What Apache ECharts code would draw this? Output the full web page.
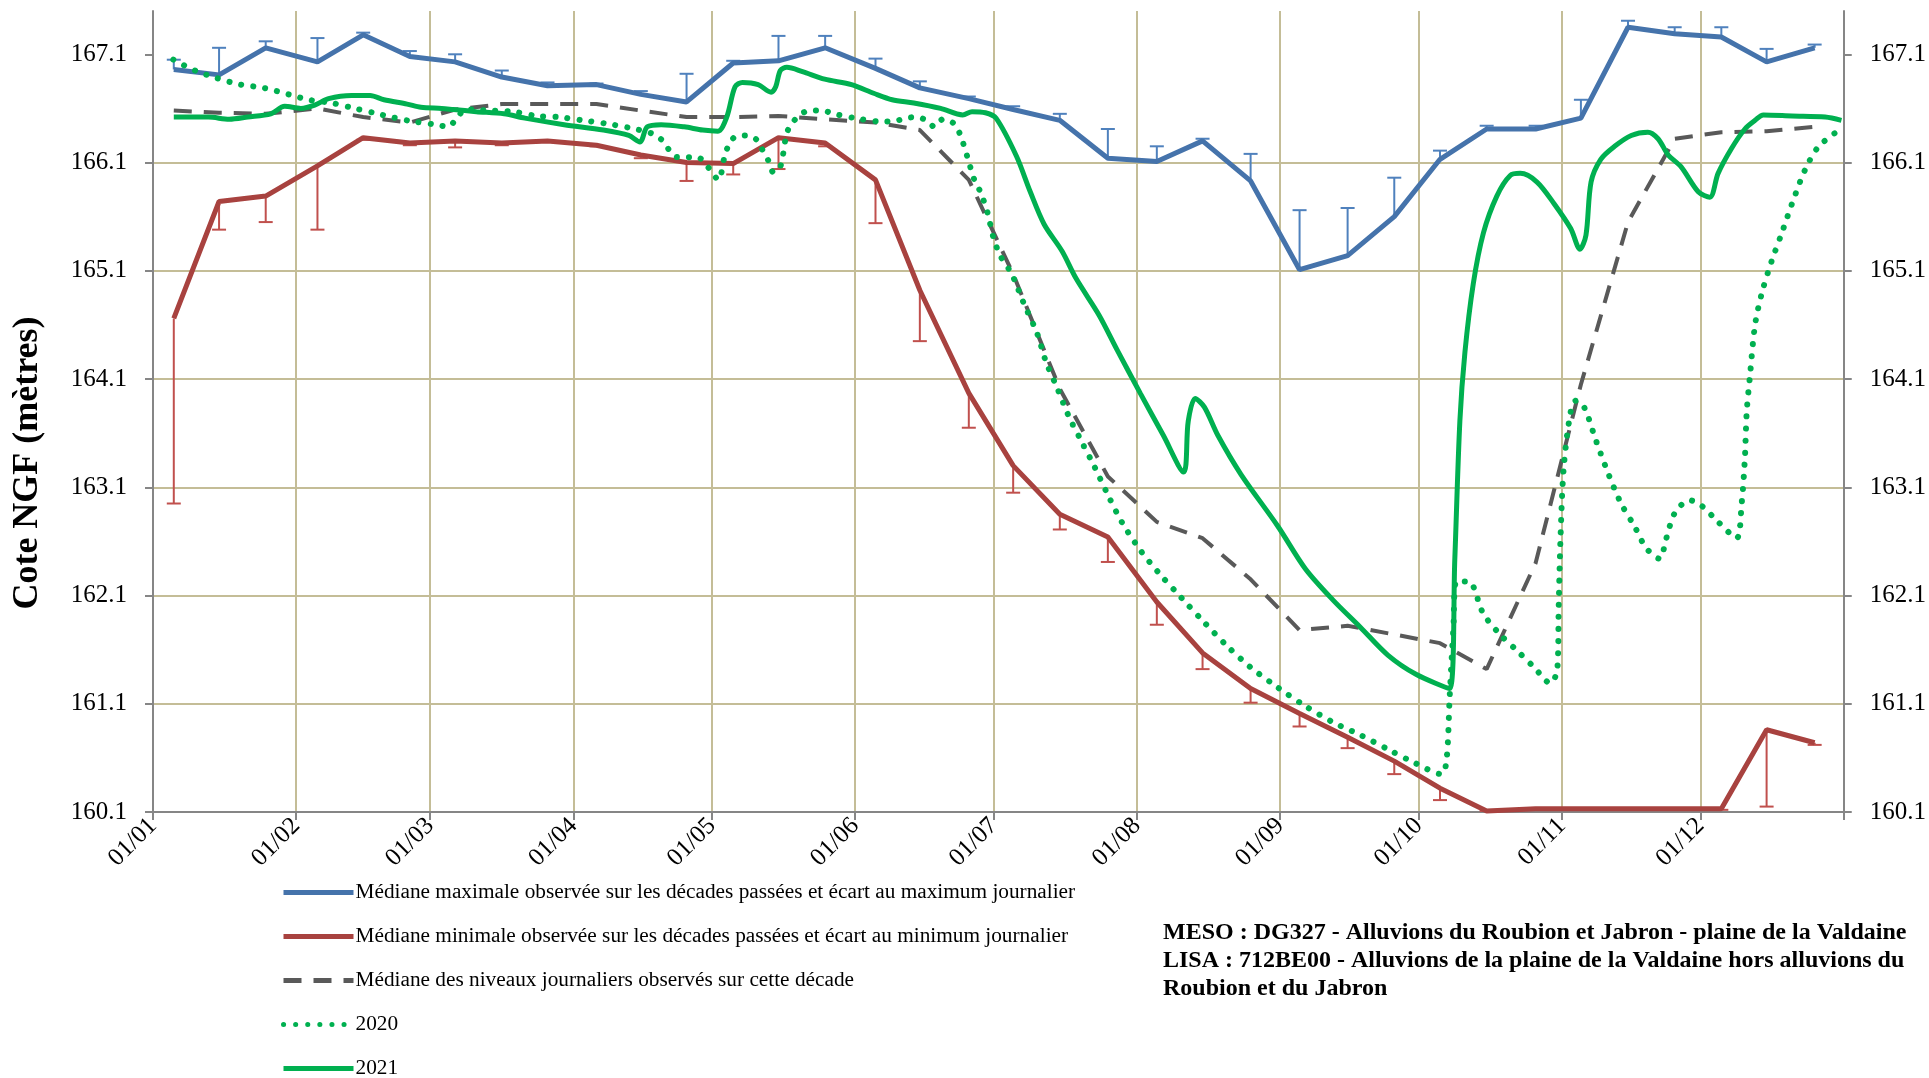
<!DOCTYPE html>
<html>
<head>
    <meta charset="utf-8">
    <title>Cote NGF</title>
    <style>
        html, body { margin: 0; padding: 0; background: #fff; }
        #main { width: 1929px; height: 1078px; }
    </style>
</head>
<body>
    <div id="main"></div>
    <script src="https://cdn.jsdelivr.net/npm/echarts@6/dist/echarts.min.js"></script>
    <script type="text/javascript">

        const FONT = '"Liberation Serif", "Times New Roman", serif';

        // axe des x : jour de l'année (année bissextile)
        const MONTH_STARTS = [0, 31, 60, 91, 121, 152, 182, 213, 244, 274, 305, 335];
        const MONTH_LABELS = ['01/01', '01/02', '01/03', '01/04', '01/05', '01/06',
            '01/07', '01/08', '01/09', '01/10', '01/11', '01/12'];
        const Y_TICKS = [160.1, 161.1, 162.1, 163.1, 164.1, 165.1, 166.1, 167.1];

        // décades
        const DECADE_DAYS = [4.5, 14.3, 24.4, 35.6, 45.5, 55.6, 65.4, 75.5, 85.4, 96, 105.6, 115.5,
            125.6, 135.4, 145.5, 156.4, 166, 176.6, 186.2, 196.3, 206.7, 217.3, 227.2, 237.6,
            248.2, 258.6, 268.7, 278.6, 288.7, 299.3, 309.1, 319.3, 329.4, 339.5, 349.3, 359.7];

        const MAX_MEDIAN = [166.96, 166.91, 167.16, 167.03, 167.28, 167.08, 167.03, 166.89, 166.81, 166.82, 166.73, 166.66,
            167.02, 167.04, 167.16, 166.97, 166.79, 166.69, 166.59, 166.49, 166.14, 166.11, 166.30, 165.93,
            165.11, 165.24, 165.60, 166.13, 166.41, 166.41, 166.51, 167.35, 167.29, 167.26, 167.03, 167.16];
        const MAX_DAILY = [167.05, 167.16, 167.22, 167.25, 167.30, 167.13, 167.10, 166.95, 166.84, 166.83, 166.76, 166.92,
            167.04, 167.27, 167.27, 167.06, 166.85, 166.71, 166.62, 166.55, 166.41, 166.25, 166.32, 166.18,
            165.66, 165.68, 165.96, 166.21, 166.44, 166.44, 166.68, 167.41, 167.35, 167.35, 167.15, 167.19];

        const MIN_MEDIAN = [164.66, 165.74, 165.79, 166.07, 166.33, 166.28, 166.30, 166.28, 166.30, 166.26, 166.17, 166.10,
            166.09, 166.33, 166.28, 165.94, 164.92, 163.97, 163.30, 162.85, 162.64, 162.04, 161.57, 161.24,
            161.01, 160.79, 160.57, 160.32, 160.11, 160.13, 160.13, 160.13, 160.13, 160.13, 160.86, 160.74];
        const MIN_DAILY = [162.95, 165.48, 165.55, 165.48, 166.31, 166.26, 166.24, 166.26, 166.29, 166.25, 166.14, 165.93,
            165.99, 166.04, 166.25, 165.54, 164.45, 163.65, 163.05, 162.71, 162.41, 161.83, 161.42, 161.11,
            160.89, 160.69, 160.45, 160.21, 160.11, 160.13, 160.13, 160.13, 160.13, 160.12, 160.15, 160.72];

        const DECADE_MEDIAN = [166.58, 166.56, 166.55, 166.60, 166.52, 166.47, 166.59, 166.64, 166.64, 166.64, 166.58, 166.52,
            166.52, 166.53, 166.50, 166.47, 166.40, 165.94, 165.07, 164.01, 163.20, 162.78, 162.63, 162.25,
            161.78, 161.82, 161.74, 161.66, 161.42, 162.40, 164.05, 165.55, 166.32, 166.38, 166.39, 166.43];

        // niveaux journaliers (jour, cote)
        const Y2020_DAYS = [4.4, 9.1, 13.8, 18.9, 23.9, 31.1, 33.6, 38.7, 43.7, 48.7, 51.6, 56.2, 61.3, 63.9, 65.6, 67.7,
            73, 78, 83.1, 87.8, 93, 98.1, 103.2, 107.9, 110.1, 113.5, 117.8, 120.3, 122.4, 123.7, 124.6, 126.1,
            128.5, 130.7, 131.9, 133.3, 134.3, 135.8, 137.2, 138.6, 142, 144.9, 147.4, 152.1, 157.5, 160.3,
            162.8, 165.4, 167.8, 169.1, 171, 173.4, 174.8, 176.3, 177.8, 179.2, 180.7, 181.9, 183.4, 185.9,
            188.4, 191.4, 193.3, 195.8, 198.3, 200.8, 203.8, 206.7, 209.7, 213.7, 217.7, 222.6, 227.6, 232.6,
            237.5, 243.5, 249.4, 255.4, 261.4, 267.3, 273.3, 278.9, 280, 280.7, 281.5, 282.2, 284.8, 288,
            291.6, 295.3, 298.9, 302.5, 304, 304.3, 304.7, 305.4, 306.9, 308, 309.8, 312.3, 314.9, 317.8,
            320.7, 323.2, 326.1, 327.6, 329.4, 332.6, 335.2, 338.8, 342.8, 343.9, 344.6, 345, 345.7, 346.8,
            348.3, 350.4, 352.6, 354.8, 357.7, 360.6, 365];
        const Y2020_VALS = [167.05, 166.95, 166.88, 166.82, 166.79, 166.71, 166.68, 166.65, 166.60, 166.55, 166.52, 166.48,
            166.45, 166.43, 166.50, 166.59, 166.58, 166.57, 166.53, 166.52, 166.49, 166.46, 166.42, 166.37,
            166.31, 166.15, 166.15, 166.05, 165.94, 166.15, 166.26, 166.34, 166.35, 166.31, 166.22, 166.11,
            166.01, 166.06, 166.37, 166.48, 166.58, 166.58, 166.55, 166.51, 166.48, 166.48, 166.51, 166.52,
            166.48, 166.43, 166.50, 166.46, 166.35, 166.15, 165.94, 165.82, 165.63, 165.41, 165.24, 165.07,
            164.81, 164.52, 164.26, 164.01, 163.75, 163.54, 163.29, 163.03, 162.78, 162.52, 162.31, 162.08,
            161.85, 161.63, 161.44, 161.25, 161.08, 160.93, 160.81, 160.68, 160.55, 160.45, 160.57, 161.17,
            161.80, 162.23, 162.23, 161.93, 161.74, 161.59, 161.44, 161.29, 161.42, 162.01, 162.65, 163.29,
            163.80, 163.90, 163.84, 163.54, 163.24, 162.95, 162.74, 162.54, 162.44, 162.63, 162.86, 162.98,
            162.93, 162.78, 162.63, 162.95, 163.37, 163.80, 164.13, 164.60, 164.90, 165.19, 165.45, 165.72,
            166.04, 166.25, 166.40];

        const Y2021_DAYS = [4.5, 12, 16.5, 20.5, 25.5, 28.5, 32, 35, 38, 43, 47, 50, 55, 58, 62.5, 65, 70, 76, 80.5,
            89, 97.5, 103, 105.4, 107, 110, 115, 119, 122.3, 124.2, 126, 127.6, 131, 133.8, 134.8, 135.8,
            137.2, 140.6, 145.4, 151.2, 156, 160, 164.7, 170.5, 175.3, 177.3, 180.2, 182.5, 186.9, 189.9,
            192.9, 196.8, 199.8, 204.8, 208.7, 213.7, 218.7, 223.1, 224.1, 225.6, 227.6, 230.5, 235.5, 243.5,
            249.4, 255.4, 261.3, 267.3, 273.5, 280.7, 281.8, 282.9, 284, 285.8, 288, 290.9, 293.8, 296, 299.6,
            303.3, 306.9, 308.9, 310.2, 311.3, 313.4, 316.4, 320, 323.6, 325.8, 328, 330.8, 334.5, 337, 338.8,
            341.7, 344.6, 346.8, 348.6, 354.8, 362, 365.5];
        const Y2021_VALS = [166.52, 166.52, 166.50, 166.52, 166.55, 166.62, 166.60, 166.63, 166.69, 166.72, 166.72, 166.68,
            166.64, 166.61, 166.60, 166.59, 166.57, 166.55, 166.51, 166.45, 166.40, 166.35, 166.29, 166.43,
            166.45, 166.43, 166.40, 166.39, 166.52, 166.80, 166.84, 166.82, 166.75, 166.80, 166.95, 166.98,
            166.94, 166.87, 166.82, 166.74, 166.68, 166.65, 166.60, 166.54, 166.57, 166.56, 166.51, 166.16,
            165.83, 165.53, 165.28, 165.03, 164.69, 164.37, 163.97, 163.58, 163.24, 163.71, 163.92, 163.84,
            163.58, 163.22, 162.74, 162.35, 162.06, 161.81, 161.55, 161.37, 161.24, 162.43, 163.71, 164.35,
            164.98, 165.45, 165.79, 165.98, 166.00, 165.92, 165.72, 165.49, 165.30, 165.43, 165.92, 166.13,
            166.25, 166.35, 166.38, 166.32, 166.17, 166.06, 165.83, 165.78, 166.00, 166.23, 166.41, 166.49,
            166.54, 166.53, 166.52, 166.49];

        const LEGEND_NAMES = [
            'Médiane maximale observée sur les décades passées et écart au maximum journalier',
            'Médiane minimale observée sur les décades passées et écart au minimum journalier',
            'Médiane des niveaux journaliers observés sur cette décade',
            '2020',
            '2021'
        ];
        const INFO_TEXT = 'MESO : DG327 - Alluvions du Roubion et Jabron - plaine de la Valdaine\n' +
            'LISA : 712BE00 - Alluvions de la plaine de la Valdaine hors alluvions du\n' +
            'Roubion et du Jabron';
        const Y_TITLE = 'Cote NGF (mètres)';

        function pairs(xs, ys) {
            return xs.map((x, i) => [x, ys[i]]);
        }

        function errorBarData(medians, extremes) {
            return DECADE_DAYS.map((d, i) => [d, medians[i], extremes[i]]);
        }

        function errorBarSeries(data, color) {
            return {
                type: 'custom',
                z: 1,
                silent: true,
                data: data,
                encode: {x: 0, y: [1, 2]},
                renderItem: function (params, api) {
                    const p1 = api.coord([api.value(0), api.value(1)]);
                    const p2 = api.coord([api.value(0), api.value(2)]);
                    const style = {stroke: color, lineWidth: 2};
                    return {
                        type: 'group',
                        children: [
                            {type: 'line', shape: {x1: p1[0], y1: p1[1], x2: p2[0], y2: p2[1]}, style: style},
                            {type: 'line', shape: {x1: p2[0] - 7, y1: p2[1], x2: p2[0] + 7, y2: p2[1]}, style: style}
                        ]
                    };
                }
            };
        }

        const GRID_COLOR = '#C4BD97';
        const AXIS_COLOR = '#868686';

        function yAxis(position, margin) {
            return {
                type: 'value',
                position: position,
                min: 160.1,
                max: 167.5,
                axisLine: {show: true, lineStyle: {color: AXIS_COLOR, width: 2}},
                axisTick: {show: true, length: 8, customValues: Y_TICKS, lineStyle: {color: AXIS_COLOR, width: 2}},
                axisLabel: {
                    customValues: Y_TICKS,
                    margin: margin,
                    fontSize: 25,
                    fontFamily: FONT,
                    color: '#000',
                    formatter: v => v.toFixed(1)
                },
                splitLine: {
                    show: position === 'left',
                    showMinLine: false,
                    showMaxLine: false,
                    lineStyle: {color: GRID_COLOR, width: 2}
                }
            };
        }

        let myChart = echarts.init(document.getElementById('main'));

        const option = {
            animation: false,
            backgroundColor: '#fff',
            grid: {left: 153, right: 84, top: 11, bottom: 266},
            title: {
                text: INFO_TEXT,
                left: 1158,
                top: 914,
                textStyle: {fontFamily: FONT, fontSize: 24, fontWeight: 'bold', color: '#000', lineHeight: 28}
            },
            graphic: [{
                type: 'text',
                x: 28,
                y: 463,
                rotation: Math.PI / 2,
                style: {
                    text: Y_TITLE,
                    fontFamily: FONT,
                    fontSize: 36,
                    fontWeight: 'bold',
                    fill: '#000',
                    align: 'center',
                    verticalAlign: 'middle'
                }
            }],
            legend: {
                orient: 'vertical',
                left: 281,
                top: 882,
                height: 260,
                padding: 0,
                itemWidth: 70,
                itemHeight: 14,
                itemGap: 23,
                data: LEGEND_NAMES,
                itemStyle: {opacity: 0},
                lineStyle: {width: 5},
                textStyle: {fontFamily: FONT, fontSize: 21.3, color: '#000', padding: [0, 0, 0, -3]}
            },
            xAxis: {
                type: 'value',
                min: 0,
                max: 366,
                axisLine: {show: true, onZero: false, lineStyle: {color: AXIS_COLOR, width: 2}},
                axisTick: {show: true, length: 8, customValues: MONTH_STARTS.concat([366]), lineStyle: {color: AXIS_COLOR, width: 2}},
                axisLabel: {
                    customValues: MONTH_STARTS,
                    rotate: 45,
                    margin: 10,
                    fontSize: 25,
                    fontFamily: FONT,
                    color: '#000',
                    formatter: v => MONTH_LABELS[MONTH_STARTS.indexOf(v)]
                },
                splitLine: {show: true, showMinLine: false, showMaxLine: false, lineStyle: {color: GRID_COLOR, width: 2}}
            },
            yAxis: [
                yAxis('left', 26),
                yAxis('right', 26)
            ],
            series: [
                errorBarSeries(errorBarData(MAX_MEDIAN, MAX_DAILY), '#4F81BD'),
                errorBarSeries(errorBarData(MIN_MEDIAN, MIN_DAILY), '#C0504D'),
                {
                    name: LEGEND_NAMES[0],
                    type: 'line',
                    z: 3,
                    symbol: 'none',
                    data: pairs(DECADE_DAYS, MAX_MEDIAN),
                    color: '#4573AB',
                    lineStyle: {color: '#4573AB', width: 5}
                },
                {
                    name: LEGEND_NAMES[1],
                    type: 'line',
                    z: 3,
                    symbol: 'none',
                    data: pairs(DECADE_DAYS, MIN_MEDIAN),
                    color: '#A8423F',
                    lineStyle: {color: '#A8423F', width: 5}
                },
                {
                    name: LEGEND_NAMES[2],
                    type: 'line',
                    z: 3,
                    symbol: 'none',
                    data: pairs(DECADE_DAYS, DECADE_MEDIAN),
                    color: '#595959',
                    lineStyle: {color: '#595959', width: 4, type: [18, 12]}
                },
                {
                    name: LEGEND_NAMES[3],
                    type: 'line',
                    z: 4,
                    symbol: 'none',
                    smooth: 0.3,
                    data: pairs(Y2020_DAYS, Y2020_VALS),
                    color: '#00B050',
                    lineStyle: {color: '#00B050', width: 6, type: [0.1, 12], cap: 'round'}
                },
                {
                    name: LEGEND_NAMES[4],
                    type: 'line',
                    z: 5,
                    symbol: 'none',
                    smooth: 0.3,
                    data: pairs(Y2021_DAYS, Y2021_VALS),
                    color: '#00B050',
                    lineStyle: {color: '#00B050', width: 5}
                }
            ]
        };

        myChart.setOption(option);

    </script>
</body>
</html>
